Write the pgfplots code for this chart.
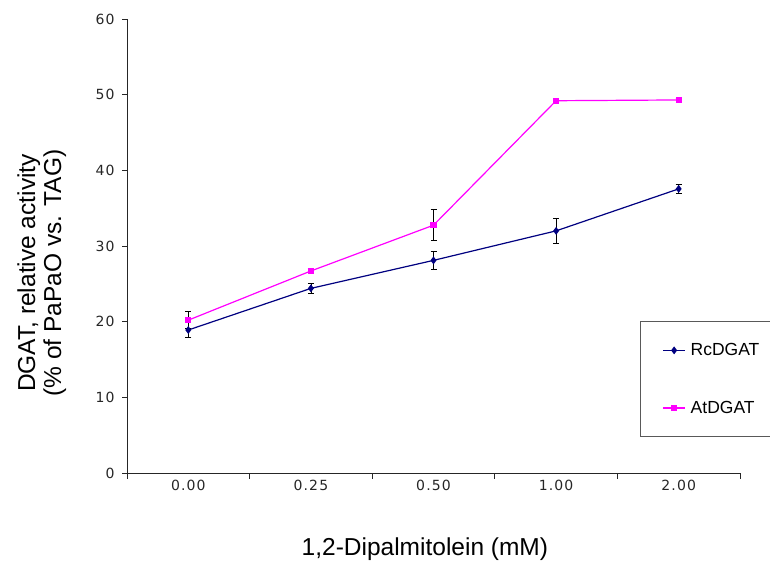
\documentclass[border=0pt]{standalone}
\usepackage{pgfplots}
\pgfplotsset{compat=1.18}
\usepackage{fontspec}
\setmainfont{Liberation Sans}
\newfontfamily\tickfont[LetterSpace=8]{DejaVu Sans}
\definecolor{rcnavy}{RGB}{0,0,128}
\definecolor{atmag}{RGB}{255,0,255}
\begin{document}
\begin{tikzpicture}[x=1pt,y=1pt]
\useasboundingbox (0,0) rectangle (770,561);
\begin{axis}[
  at={(127pt,88pt)}, anchor=south west,
  scale only axis, width=613pt, height=454pt,
  xmin=-0.5, xmax=4.5, ymin=0, ymax=60,
  axis x line*=bottom, axis y line*=left,
  axis line style={-, black!85, line width=0.8pt},
  tick align=outside,
  xtick={0,1,2,3,4},
  xticklabels={0.00,0.25,0.50,1.00,2.00},
  minor xtick={-0.5,0.5,1.5,2.5,3.5,4.5},
  major x tick style={draw=none},
  minor x tick style={black!85, line width=0.8pt},
  minor tick length=6pt,
  major tick length=5pt,
  ytick={0,10,20,30,40,50,60},
  y tick style={black!85, line width=0.8pt},
  /pgf/number format/assume math mode=true,
  tick label style={font=\tickfont\fontsize{14}{16}\selectfont, text=black!85},
  xticklabel style={anchor=base, yshift=-13pt},
  yticklabel style={anchor=east, xshift=-4pt},
  xlabel={1,2-Dipalmitolein (mM)},
  xlabel style={font=\fontsize{24.5}{26}\selectfont, at={(axis description cs:0.486,-0.168)}, anchor=center},
  ylabel={DGAT, relative activity\\(\% of PaPaO vs. TAG)},
  ylabel style={font=\fontsize{24.5}{26}\selectfont, align=center, at={(axis description cs:-0.139,0.4405)}, anchor=center, rotate=0},
  legend style={at={(0.8369,0.3348)}, anchor=north west, draw=black!65, line width=1pt,
    font=\fontsize{17.5}{19}\selectfont, inner xsep=22pt, inner ysep=20pt, row sep=40pt,
    column sep=3pt, nodes={inner sep=2pt}},
  legend cell align=left,
  legend image code/.code={\draw[#1, mark repeat=2, mark phase=2] plot coordinates {(0pt,0pt) (11pt,0pt) (22pt,0pt)};},
  clip=false,
]
\addplot[rcnavy, line width=1.2pt, mark=diamond*, mark size=3pt, mark options={solid, fill=rcnavy},
  error bars/.cd, y dir=both, y explicit,
  error bar style={black, line width=0.8pt},
  error mark options={rotate=90, black, mark size=3pt, line width=0.8pt}]
  coordinates {
  (0,18.9) +- (0,1.0)
  (1,24.4) +- (0,0.6)
  (2,28.1) +- (0,1.2)
  (3,32.0) +- (0,1.65)
  (4,37.55) +- (0,0.55)
  };
\addlegendentry{RcDGAT}
\addplot[atmag, line width=1.2pt, mark=square*, mark size=2.5pt, mark options={solid, fill=atmag},
  error bars/.cd, y dir=both, y explicit,
  error bar style={black, line width=0.8pt},
  error mark options={rotate=90, black, mark size=3pt, line width=0.8pt}]
  coordinates {
  (0,20.2) +- (0,1.1)
  (1,26.7) +- (0,0.3)
  (2,32.75) +- (0,2.05)
  (3,49.2) +- (0,0.2)
  (4,49.3) +- (0,0.2)
  };
\addlegendentry{AtDGAT}
\end{axis}
\end{tikzpicture}
\end{document}
